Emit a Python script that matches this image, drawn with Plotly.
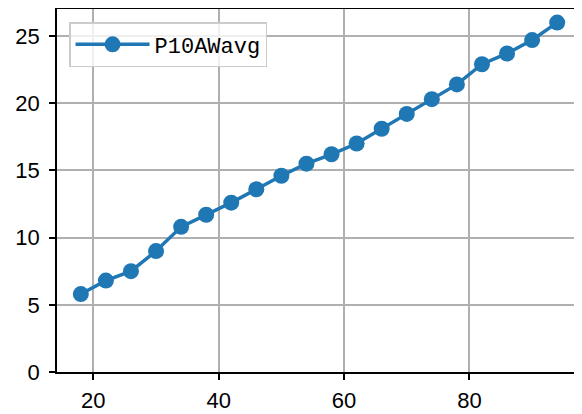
import plotly.graph_objects as go

x_vals = [18, 22, 26, 30, 34, 38, 42, 46, 50, 54, 58, 62, 66, 70, 74, 78, 82, 86, 90, 94]
y_vals = [5.8, 6.8, 7.5, 9.0, 10.8, 11.7, 12.6, 13.6, 14.6, 15.5, 16.2, 17.0, 18.1, 19.2, 20.3, 21.4, 22.9, 23.7, 24.7, 26.0]
series_name = "P10AWavg"
x_ticks = [20, 40, 60, 80]
y_ticks = [0, 5, 10, 15, 20, 25]

fig = go.Figure()
fig.add_trace(go.Scatter(
    x=x_vals, y=y_vals, mode="lines+markers", name=series_name,
    line=dict(color="#1f77b4", width=3.5),
    marker=dict(color="#1f77b4", size=16),
))

axis_common = dict(
    showline=True, linecolor="black", linewidth=1.5, mirror=True,
    ticks="outside", ticklen=6, tickwidth=1.5, tickcolor="black",
    showgrid=True, gridcolor="#b0b0b0", gridwidth=1.5,
    zeroline=False, automargin=False,
    tickfont=dict(family="Liberation Sans, Arial, sans-serif", size=22, color="black"),
)

fig.update_xaxes(range=[14.2, 97.8], tickvals=x_ticks, ticklabelstandoff=2, **axis_common)
fig.update_yaxes(range=[0, 27.01], tickvals=y_ticks, ticklabelstandoff=5, **axis_common)

fig.update_layout(
    width=574, height=406,
    margin=dict(l=49, r=1, t=1, b=42, autoexpand=False),
    paper_bgcolor="white", plot_bgcolor="white",
    showlegend=True,
    legend=dict(
        x=0.023, y=0.964, xanchor="left", yanchor="top",
        bgcolor="rgba(255,255,255,0.8)", bordercolor="#cccccc", borderwidth=1.5,
        font=dict(family="Liberation Mono, monospace", size=22, color="black"),
        itemwidth=74,
    ),
)

fig.write_html("out.html")
